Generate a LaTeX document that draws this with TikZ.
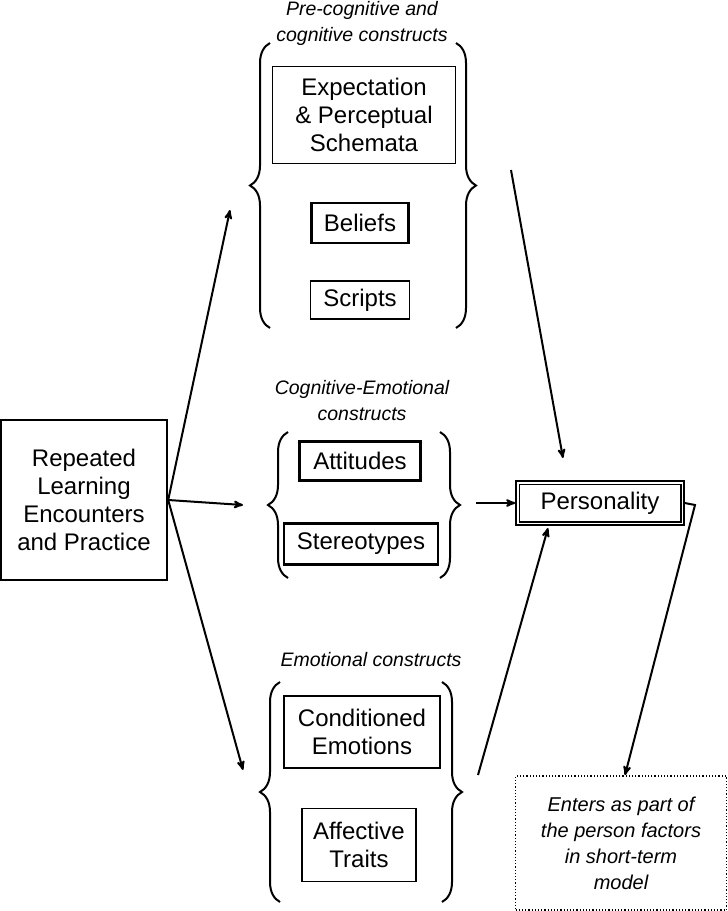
\documentclass[tikz,border=0pt]{standalone}
\usepackage{fontspec}
\setmainfont{Liberation Sans}
\usetikzlibrary{arrows,positioning,decorations.pathreplacing}
\tikzset{>=stealth',
         box/.style={draw,line width=1.2pt,align=center,inner sep=0pt,font=\fontsize{24}{28}\selectfont},
         bold box/.style={box,line width=2.4pt},
         title/.style={align=center,font=\fontsize{19.5}{26}\selectfont\itshape},
         lbrace/.style={decorate,decoration={brace,amplitude=20pt,mirror},line width=2pt},
         rbrace/.style={decorate,decoration={brace,amplitude=20pt},line width=2pt},
         link/.style={->,line width=2pt}}

\begin{document}
\begin{tikzpicture}[x=1pt,y=-1pt]
  \useasboundingbox (0,0) rectangle (728,911);
  % pre-cognitive group
  \node[title] (tpre) at (362,23) {Pre-cognitive and\\cognitive constructs};
  \node[box,minimum width=183,minimum height=97] (expect) at (364,115) {Expectation\\\& Perceptual\\Schemata};
  \node[bold box,minimum width=97,minimum height=40] (beliefs) at (360,223) {Beliefs};
  \node[box,minimum width=99,minimum height=38] (scripts) at (360,300) {Scripts};
  \draw[lbrace] (270,43) -- (270,328);
  \draw[rbrace] (456,43) -- (456,328);
  % cognitive-emotional group
  \node[title] (tcog) at (362,401) {Cognitive-Emotional\\constructs};
  \node[bold box,minimum width=121,minimum height=39] (attitudes) at (360,461) {Attitudes};
  \node[bold box,minimum width=154,minimum height=41] (stereo) at (361,544) {Stereotypes};
  \draw[lbrace] (288,432) -- (288,578);
  \draw[rbrace] (440,432) -- (440,578);
  % emotional group
  \node[title] (temo) at (371,660) {Emotional constructs};
  \node[box,minimum width=156,minimum height=72] (cond) at (362,732) {Conditioned\\Emotions};
  \node[box,minimum width=114,minimum height=73] (affect) at (359,845) {Affective\\Traits};
  \draw[lbrace] (280,682) -- (280,902);
  \draw[rbrace] (442,682) -- (442,902);
  % left and right
  \node[bold box,minimum width=166,minimum height=160] (learn) at (84,500) {Repeated\\Learning\\Encounters\\and Practice};
  \node[box,line width=1.5pt,minimum width=168,minimum height=44] (person) at (600,503) {Personality};
  \draw[line width=1.5pt] ([shift={(4,-4)}]person.south west) rectangle ([shift={(-4,4)}]person.north east);
  \node[box,dotted,line width=1.8pt,minimum width=211,minimum height=134,font=\fontsize{20}{26}\selectfont\itshape] (enters) at (621,843) {Enters as part of\\the person factors\\in short-term\\model};
  % connectors
  \coordinate (c1) at (230,210);
  \coordinate (c2) at (243,505);
  \coordinate (c3) at (243,770);
  \coordinate (c4) at (511,170);
  \coordinate (c5) at (478,775);
  \coordinate (c6) at (476,503);
  \coordinate (c7) at (695,505);
  \draw[link] (learn.east) -- (c1);
  \draw[link] (learn.east) -- (c2);
  \draw[link] (learn.east) -- (c3);
  \draw[link] (c4) -- (563,458);
  \draw[link] (c5) -- (548,528);
  \draw[link] (c6) -- (person.west);
  \draw[link] (person.east) -- (c7) -- (enters.north -| 625,0);
\end{tikzpicture}
\end{document}
